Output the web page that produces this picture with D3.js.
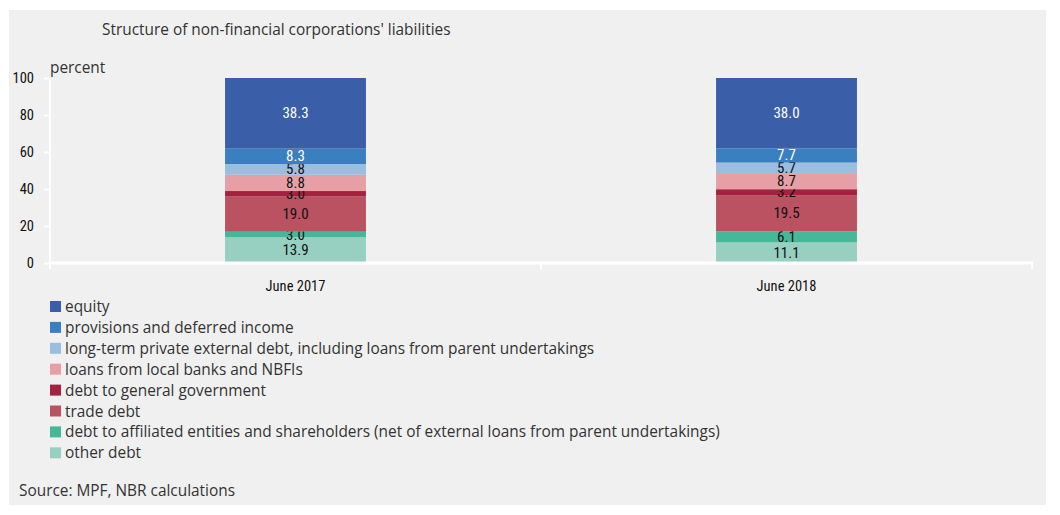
<!DOCTYPE html>
<html>
<head>
<meta charset="utf-8">
<script src="https://cdn.jsdelivr.net/npm/d3@7"></script>
<style>
  body { margin: 0; background: #fff; }
  svg { display: block; }
  .tick-lbl { font-family: "Liberation Sans Narrow", "Roboto Condensed", "DejaVu Sans Condensed", sans-serif; font-size: 14.5px; fill: #111; }
  .txt { font-family: "Open Sans", "Noto Sans", sans-serif; font-size: 15.4px; fill: #333; }
</style>
</head>
<body>
<div id="chart"></div>
<script>
// Data
const periods = ['June 2017', 'June 2018'];
const seriesNames = [
    'other debt',
    'debt to affiliated entities and shareholders (net of external loans from parent undertakings)',
    'trade debt',
    'debt to general government',
    'loans from local banks and NBFIs',
    'long-term private external debt, including loans from parent undertakings',
    'provisions and deferred income',
    'equity'
];
const values2017 = [13.9, 3.0, 19.0, 3.0, 8.8, 5.8, 8.3, 38.3];
const values2018 = [11.1, 6.1, 19.5, 3.2, 8.7, 5.7, 7.7, 38.0];
const seriesColors = ['#97d0c0', '#45b89a', '#bb5262', '#a42240', '#e6a0a5', '#9bbde0', '#3a7fbf', '#3a5fa8'];
const whiteLabels = ['equity', 'provisions and deferred income'];
const yTicks = [0, 20, 40, 60, 80, 100];

const W = 1060, H = 515;
const svg = d3.select('#chart').append('svg')
    .attr('width', W)
    .attr('height', H);

// Grey panel
svg.append('rect')
    .attr('x', 9).attr('y', 10)
    .attr('width', 1037).attr('height', 495)
    .attr('fill', '#f0f0f0');

const plot = { left: 50, right: 1032, top: 78, bottom: 263 };

const x = d3.scaleBand()
    .domain(periods)
    .range([plot.left, plot.right])
    .paddingInner(0.713)
    .paddingOuter(0.3565);

const y = d3.scaleLinear()
    .domain([0, 100])
    .range([plot.bottom, plot.top]);

// Build stacked table
const table = periods.map((p, i) => {
    const row = { period: p };
    const vals = i === 0 ? values2017 : values2018;
    seriesNames.forEach((s, j) => { row[s] = vals[j]; });
    return row;
});
const stacked = d3.stack().keys(seriesNames)(table);

const layers = svg.append('g').selectAll('g')
    .data(stacked)
    .enter()
    .append('g')
    .attr('fill', (d, i) => seriesColors[i]);

layers.selectAll('rect')
    .data(d => d)
    .enter()
    .append('rect')
    .attr('x', d => x(d.data.period))
    .attr('width', x.bandwidth())
    .attr('y', d => y(Math.min(d[1], 100)))
    .attr('height', d => y(d[0]) - y(Math.min(d[1], 100)));

// Value labels
layers.each(function (layer) {
    d3.select(this).selectAll('text')
        .data(layer)
        .enter()
        .append('text')
        .attr('class', 'tick-lbl')
        .attr('x', d => x(d.data.period) + x.bandwidth() / 2)
        .attr('y', d => (y(d[0]) + y(Math.min(d[1], 100))) / 2 + 5)
        .attr('text-anchor', 'middle')
        .style('font-size', '15px')
        .style('fill', whiteLabels.includes(layer.key) ? '#fff' : '#111')
        .text(d => (d[1] - d[0]).toFixed(1));
});

// Y axis
const yAxis = svg.append('g')
    .attr('transform', `translate(${plot.left},0)`)
    .call(d3.axisLeft(y).tickValues(yTicks).tickSize(6).tickPadding(10));
yAxis.select('.domain').remove();
yAxis.selectAll('line').attr('stroke', '#fff').attr('stroke-width', 2);
yAxis.selectAll('text').attr('class', 'tick-lbl').attr('fill', null);
yAxis.append('line')
    .attr('x1', 0).attr('x2', 0)
    .attr('y1', plot.top).attr('y2', plot.bottom + 6)
    .attr('stroke', '#fff').attr('stroke-width', 2);

// X axis
const xAxis = svg.append('g')
    .attr('transform', `translate(0,${plot.bottom})`);
xAxis.append('line')
    .attr('x1', plot.left).attr('x2', plot.right + 1)
    .attr('y1', 0).attr('y2', 0)
    .attr('stroke', '#fff').attr('stroke-width', 3);
[plot.left, (plot.left + plot.right) / 2, plot.right].forEach(px => {
    xAxis.append('line')
        .attr('x1', px).attr('x2', px)
        .attr('y1', 0).attr('y2', 6)
        .attr('stroke', '#fff').attr('stroke-width', 2);
});
xAxis.selectAll('text.cat')
    .data(periods)
    .enter()
    .append('text')
    .attr('class', 'tick-lbl')
    .attr('x', d => x(d) + x.bandwidth() / 2)
    .attr('y', 28)
    .attr('text-anchor', 'middle')
    .text(d => d);

// Titles
svg.append('text')
    .attr('class', 'txt')
    .attr('x', 102).attr('y', 35)
    .text("Structure of non-financial corporations' liabilities");
svg.append('text')
    .attr('class', 'txt')
    .attr('x', 50).attr('y', 73)
    .text('percent');

// Legend (top-down order = reverse of stack)
const legendItems = seriesNames.map((s, i) => ({ name: s, color: seriesColors[i] })).reverse();
const legend = svg.append('g').attr('transform', 'translate(50,301)');
legendItems.forEach((item, i) => {
    const g = legend.append('g').attr('transform', `translate(0, ${i * 20.9})`);
    g.append('rect')
        .attr('width', 11).attr('height', 11)
        .attr('fill', item.color);
    g.append('text')
        .attr('class', 'txt')
        .attr('x', 15).attr('y', 11)
        .text(item.name);
});

svg.append('text')
    .attr('class', 'txt')
    .attr('x', 19).attr('y', 496)
    .text('Source: MPF, NBR calculations');
</script>
</body>
</html>
